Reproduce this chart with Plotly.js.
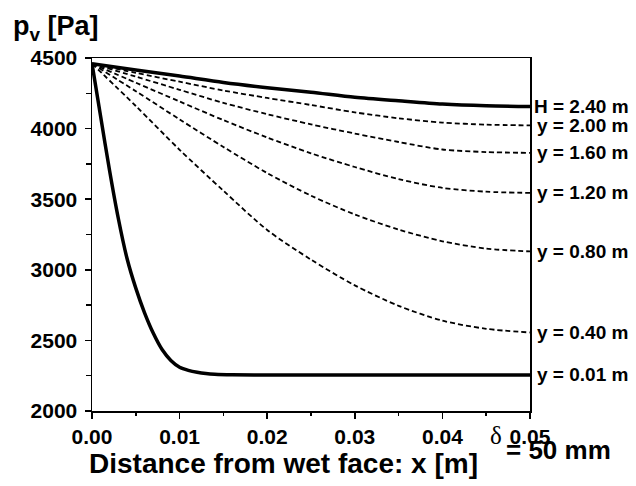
<!DOCTYPE html>
<html>
<head>
<meta charset="utf-8">
<script src="https://cdn.plot.ly/plotly-3.0.1.min.js"></script>
<style>html,body{margin:0;padding:0;background:#fff;}#chart{width:636px;height:486px;}</style>
</head>
<body>
<div id="chart"></div>
<script>
// x positions (m) for the coarse curves
const xCoarse = [0, 0.005, 0.01, 0.015, 0.02, 0.025, 0.03, 0.035, 0.04, 0.045, 0.05];
// x positions (m) for the near-surface curve
const xFine = [0, 0.001, 0.002, 0.003, 0.004, 0.005, 0.006, 0.007, 0.008, 0.009, 0.01, 0.011, 0.012, 0.013, 0.014, 0.016, 0.02, 0.03, 0.04, 0.05];

// vapour pressure pv [Pa]
const pH240 = [4460, 4415, 4372, 4327, 4290, 4258, 4222, 4197, 4174, 4162, 4157];
const pY200 = [4460, 4395, 4332, 4270, 4217, 4167, 4115, 4073, 4043, 4028, 4023];
const pY160 = [4460, 4368, 4275, 4182, 4102, 4030, 3965, 3905, 3852, 3834, 3828];
const pY120 = [4460, 4325, 4192, 4060, 3937, 3825, 3728, 3642, 3580, 3553, 3545];
const pY080 = [4460, 4265, 4065, 3870, 3685, 3525, 3392, 3285, 3202, 3150, 3130];
const pY040 = [4460, 4160, 3850, 3560, 3282, 3072, 2890, 2745, 2640, 2582, 2556];
const pY001 = [4460, 4080, 3705, 3365, 3080, 2870, 2695, 2550, 2435, 2358, 2310, 2288, 2274, 2265, 2260, 2256, 2255, 2255, 2255, 2255];

const seriesLabels = ["H = 2.40 m", "y = 2.00 m", "y = 1.60 m", "y = 1.20 m", "y = 0.80 m", "y = 0.40 m", "y = 0.01 m"];
const seriesX = [xCoarse, xCoarse, xCoarse, xCoarse, xCoarse, xCoarse, xFine];
const seriesY = [pH240, pY200, pY160, pY120, pY080, pY040, pY001];
const seriesSolid = [true, false, false, false, false, false, true];

const yTickVals = [2000, 2500, 3000, 3500, 4000, 4500];
const xTickVals = [0, 0.01, 0.02, 0.03, 0.04, 0.05];
const xTickText = ["0.00", "0.01", "0.02", "0.03", "0.04", "0.05"];

const FONT = "Liberation Sans, Arial, Helvetica, sans-serif";

const traces = seriesY.map((ys, i) => ({
  x: seriesX[i], y: ys, mode: "lines", type: "scatter",
  line: seriesSolid[i]
    ? {color: "#000", width: 3.5, shape: "spline", smoothing: 0.8}
    : {color: "#000", width: 1.8, dash: "5px,3px", shape: "spline", smoothing: 0.8},
  hoverinfo: "skip", showlegend: false
}));

const labelAnn = seriesY.map((ys, i) => ({
  x: 0.05, y: ys[ys.length - 1], xref: "x", yref: "y",
  text: seriesLabels[i], showarrow: false, xanchor: "left", yanchor: "middle",
  xshift: i === 0 ? 2 : 5,
  font: {family: FONT, size: 19, color: "#000", weight: "bold"}
}));

const otherAnn = [
  {xref: "paper", yref: "paper", x: -0.185, y: 1.14, xanchor: "left", yanchor: "top",
   text: "p<sub>v</sub> [Pa]", showarrow: false,
   font: {family: FONT, size: 27, color: "#000", weight: "bold"}},
  {xref: "paper", yref: "paper", x: -0.012, y: -0.1, xanchor: "left", yanchor: "top",
   text: "Distance from wet face: x [m]", showarrow: false,
   font: {family: FONT, size: 28, color: "#000", weight: "bold"}},
  {xref: "paper", yref: "paper", x: 0.905, y: -0.026, xanchor: "left", yanchor: "top",
   text: "δ", showarrow: false,
   font: {family: "Liberation Serif, serif", size: 25, color: "#000"}},
  {xref: "paper", yref: "paper", x: 0.94, y: -0.063, xanchor: "left", yanchor: "top",
   text: "= 50 mm", showarrow: false,
   font: {family: FONT, size: 26, color: "#000", weight: "bold"}}
];

const layout = {
  width: 636, height: 486,
  margin: {l: 92, r: 106, t: 58, b: 75},
  paper_bgcolor: "#fff", plot_bgcolor: "#fff",
  showlegend: false,
  xaxis: {
    range: [0, 0.05], tickvals: xTickVals, ticktext: xTickText,
    ticks: "outside", ticklen: 6, tickwidth: 1.5, tickcolor: "#000",
    minor: {dtick: 0.005, ticks: "outside", ticklen: 3, tickwidth: 1.5, tickcolor: "#000", showgrid: false},
    showline: true, linecolor: "#000", linewidth: 1.5, mirror: true,
    showgrid: false, zeroline: false,
    tickfont: {family: FONT, size: 21, color: "#000", weight: "bold"}
  },
  yaxis: {
    range: [2000, 4500], tickvals: yTickVals,
    ticks: "outside", ticklen: 6, tickwidth: 1.5, tickcolor: "#000",
    minor: {dtick: 250, ticks: "outside", ticklen: 5, tickwidth: 1.5, tickcolor: "#000", showgrid: false},
    showline: true, linecolor: "#000", linewidth: 1.5, mirror: true,
    showgrid: false, zeroline: false, ticklabelstandoff: 3,
    tickfont: {family: FONT, size: 21, color: "#000", weight: "bold"}
  },
  annotations: labelAnn.concat(otherAnn)
};

Plotly.newPlot("chart", traces, layout, {staticPlot: true, displayModeBar: false});
</script>
</body>
</html>
